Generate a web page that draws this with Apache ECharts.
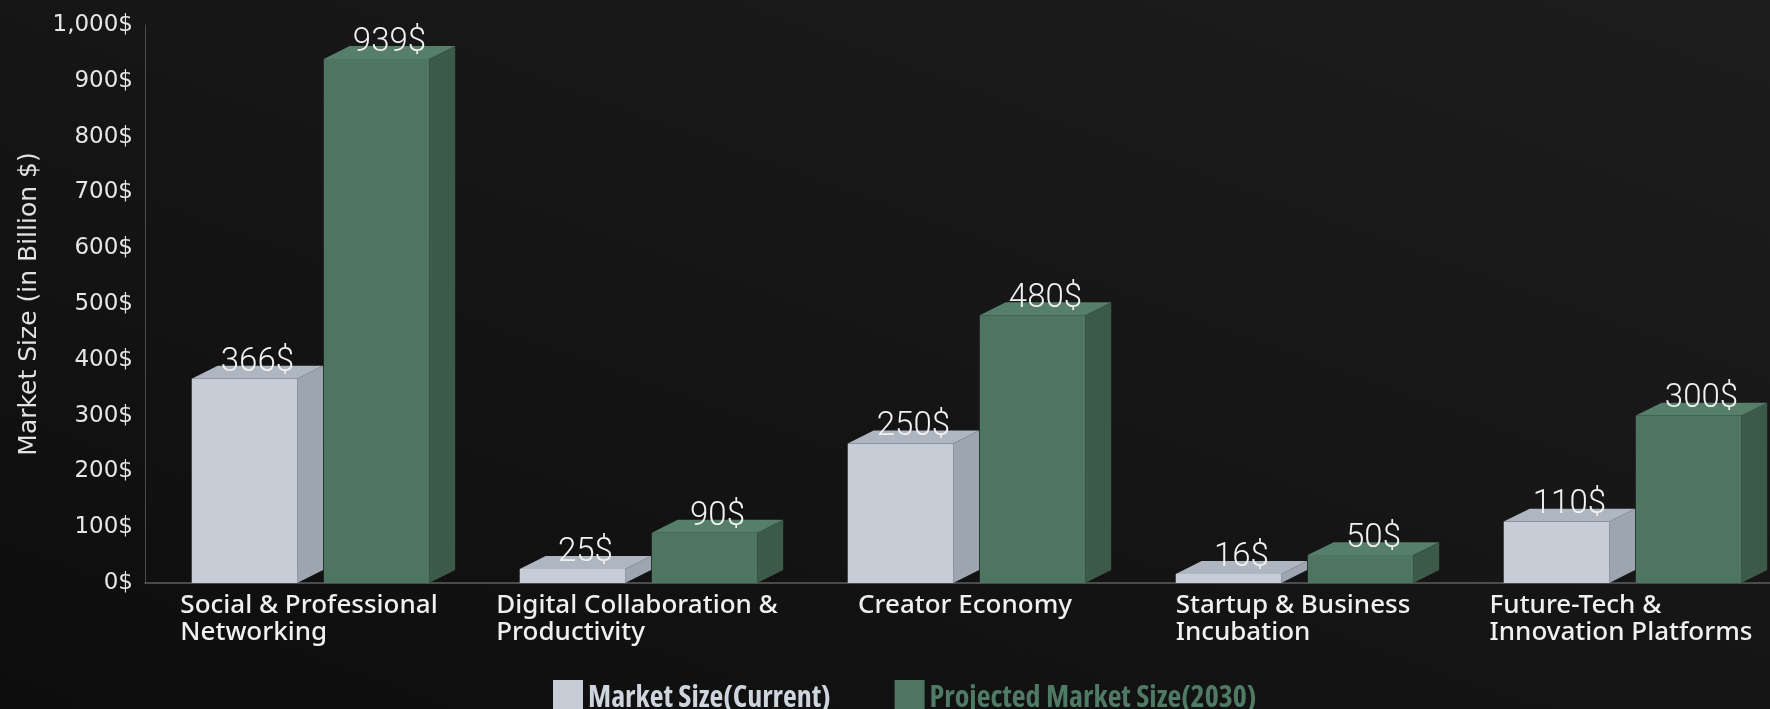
<!DOCTYPE html>
<html>
<head>
<meta charset="utf-8">
<title>Market Size by Segment</title>
<script src="https://cdn.jsdelivr.net/npm/echarts@6/dist/echarts.min.js"></script>
<style>
  html, body { margin: 0; padding: 0; background: #121212; }
  #chart {
    width: 1770px; height: 709px;
    background: linear-gradient(200deg, #1d1d1d 0%, #171717 40%, #0d0d0d 100%);
  }
</style>
</head>
<body>
<div id="chart"></div>
<script>
// Segments on the category axis (line breaks are part of the axis labels)
const categories = [
  'Social & Professional\nNetworking',
  'Digital Collaboration &\nProductivity',
  'Creator Economy',
  'Startup & Business\nIncubation',
  'Future-Tech &\nInnovation Platforms'
];
// Market size in billion $
const currentSize = [366, 25, 250, 16, 110];
const projectedSize = [939, 90, 480, 50, 300];
const seriesNames = ['Market Size(Current)', 'Projected Market Size(2030)'];
const yTickValues = [0, 100, 200, 300, 400, 500, 600, 700, 800, 900, 1000];

// Face shades for the extruded boxes
const greyFaces = { front: '#c6cdd7', side: '#9da5b0', top: '#aeb6c1' };
const greenFaces = { front: '#4d7560', side: '#3b5a4a', top: '#567f69' };

const measureCtx = document.createElement('canvas').getContext('2d');
function textWidth(font, text) {
  measureCtx.font = '10px serif';
  measureCtx.font = font;
  return measureCtx.font === '10px serif' ? Infinity : measureCtx.measureText(text).width;
}

// Pick the narrowest available bold face for the legend text
function pickNarrowFont(sample) {
  const mono = textWidth('bold 40px monospace', sample);
  const options = [
    { stretch: 'extra-condensed', family: '"Noto Sans"' },
    { stretch: 'condensed', family: '"Noto Sans"' },
    { stretch: 'condensed', family: '"Open Sans"' },
    { stretch: 'condensed', family: 'Roboto' },
    { stretch: '', family: '"Roboto Condensed"' },
    { stretch: '', family: '"Liberation Sans Narrow"' },
    { stretch: '', family: '"DejaVu Sans Condensed"' },
    { stretch: 'condensed', family: '"DejaVu Sans"' },
    { stretch: '', family: '"Noto Sans"' }
  ];
  let best = null;
  options.forEach(function (o) {
    const w = textWidth((o.stretch ? o.stretch + ' ' : '') + 'bold 40px ' + o.family + ', monospace', sample);
    if (w === mono || !isFinite(w)) return;
    if (!best || w < best.w) best = { stretch: o.stretch, family: o.family, w: w };
  });
  if (!best) best = { stretch: '', family: 'sans-serif', w: textWidth('bold 40px sans-serif', sample) };
  // aim for ~248px across the first entry, kept between 27px and 38px
  best.size = Math.max(27, Math.min(38, Math.floor(40 * 248 / best.w)));
  return best;
}
const legendFont = pickNarrowFont(seriesNames[0]);
const legendFontStr = (legendFont.stretch ? legendFont.stretch + ' ' : '') + 'bold ' + legendFont.size + 'px ' + legendFont.family;
const legendGap = 64;
const legendSpan = 2 * (30 + 5) + legendGap +
  textWidth(legendFontStr, seriesNames[0]) + textWidth(legendFontStr, seriesNames[1]);
const legendLeft = Math.round(900 - legendSpan / 2);

// Draws one extruded bar: front face, right side, top face and the value label
function boxRenderer(slot, faces) {
  return function (params, api) {
    const cat = api.value(0);
    const val = api.value(1);
    const base = api.coord([cat, 0]);
    const tip = api.coord([cat, val]);
    const band = api.size([1, 0])[0];
    const w = band * 0.3216;
    const gap = band * 0.081;
    const dx = band * 0.079;
    const dy = dx * 0.5;
    const left = (slot === 0 ? base[0] - w - gap / 2 : base[0] + gap / 2) + 1.5;
    const yTop = tip[1];
    const yBase = base[1];
    return {
      type: 'group',
      children: [
        {
          type: 'polygon',
          shape: { points: [[left + w, yTop], [left + w + dx, yTop - dy], [left + w + dx, yBase - dy], [left + w, yBase]] },
          style: { fill: faces.side }
        },
        {
          type: 'rect',
          shape: { x: left, y: yTop, width: w, height: yBase - yTop },
          style: { fill: faces.front }
        },
        {
          type: 'polygon',
          shape: { points: [[left, yTop], [left + dx, yTop - dy], [left + w + dx, yTop - dy], [left + w, yTop]] },
          style: { fill: faces.top }
        },
        {
          type: 'text',
          style: {
            text: val + '$',
            x: left + (w + dx) / 2,
            y: yTop - 16.5,
            align: 'center',
            verticalAlign: 'middle',
            fill: '#f2f2f2',
            font: '300 33px Roboto, sans-serif'
          }
        }
      ]
    };
  };
}

const chart = echarts.init(document.getElementById('chart'), null, { renderer: 'canvas' });

chart.setOption({
  backgroundColor: 'transparent',
  animation: false,
  grid: { left: 145, top: 25, width: 1640, height: 558, outerBoundsMode: 'none', containLabel: false },
  legend: {
    left: legendLeft,
    top: 675,
    itemWidth: 30,
    itemHeight: 36,
    itemGap: legendGap,
    icon: 'rect',
    textStyle: {
      fontFamily: legendFont.family,
      fontStyle: legendFont.stretch || 'normal',
      fontWeight: 'bold',
      fontSize: legendFont.size
    },
    data: [
      { name: seriesNames[0], itemStyle: { color: greyFaces.front }, textStyle: { color: '#cfd5de' } },
      { name: seriesNames[1], itemStyle: { color: greenFaces.front }, textStyle: { color: '#4f7a64' } }
    ]
  },
  xAxis: {
    type: 'category',
    data: categories,
    axisLine: { lineStyle: { color: '#5e5e5e', width: 1.5 } },
    axisTick: { show: false },
    axisLabel: {
      interval: 0,
      margin: 9,
      formatter: function (v) {
        return v.split('\n').map(function (l) { return '{l|' + l + '}'; }).join('\n');
      },
      rich: {
        l: {
          align: 'left',
          color: '#f0f0f0',
          fontFamily: '"Noto Sans", sans-serif',
          fontWeight: 500,
          fontSize: 26,
          lineHeight: 27
        }
      }
    }
  },
  yAxis: {
    type: 'value',
    min: 0,
    max: 1000,
    interval: 100,
    name: 'Market Size (in Billion $)',
    nameLocation: 'middle',
    nameGap: 97,
    nameRotate: 90,
    nameTextStyle: {
      color: '#e2e2e2',
      fontFamily: '"DejaVu Sans", sans-serif',
      fontSize: 25
    },
    axisLine: { show: true, lineStyle: { color: '#4a4a4a', width: 1 } },
    axisTick: { show: false },
    splitLine: { show: false },
    axisLabel: {
      margin: 12,
      color: '#e6e6e6',
      fontFamily: '"DejaVu Sans", sans-serif',
      fontSize: 23,
      customValues: yTickValues,
      formatter: function (v) { return v.toLocaleString('en-US') + '$'; }
    }
  },
  series: [
    {
      name: seriesNames[0],
      type: 'custom',
      itemStyle: { color: greyFaces.front },
      encode: { x: 0, y: 1 },
      data: currentSize.map(function (v, i) { return [i, v]; }),
      renderItem: boxRenderer(0, greyFaces)
    },
    {
      name: seriesNames[1],
      type: 'custom',
      itemStyle: { color: greenFaces.front },
      encode: { x: 0, y: 1 },
      data: projectedSize.map(function (v, i) { return [i, v]; }),
      renderItem: boxRenderer(1, greenFaces)
    }
  ]
});
</script>
</body>
</html>
